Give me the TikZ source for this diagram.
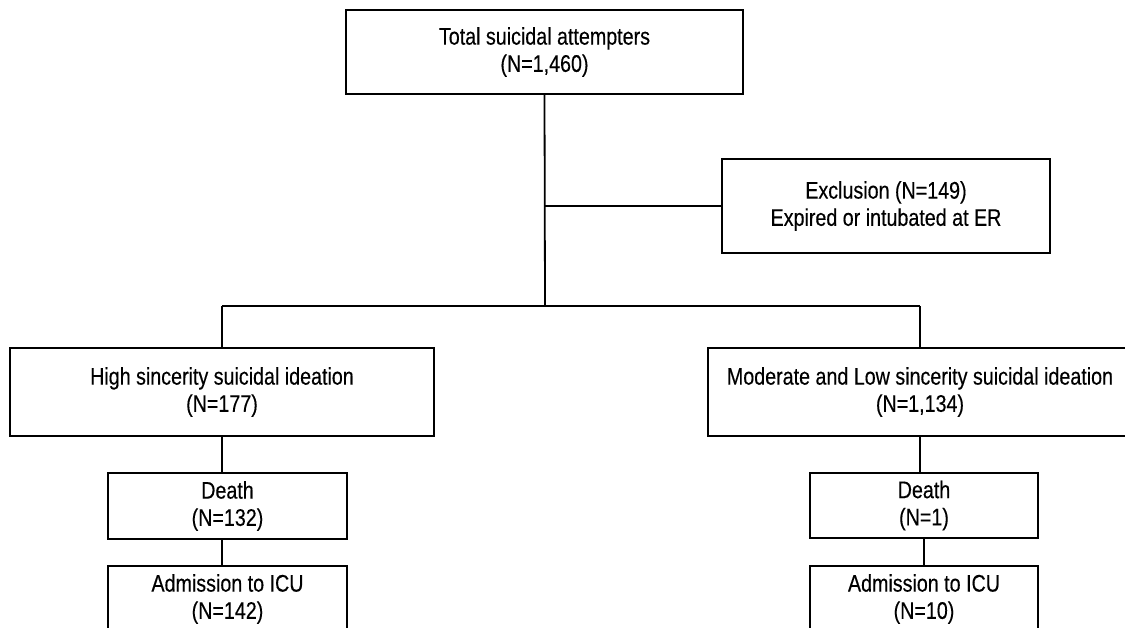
\documentclass[tikz,border=0pt]{standalone}
\usepackage{fontspec}
\newfontfamily\diagfont{Liberation Sans}[FakeStretch=0.82,FakeBold=0.3]
\begin{document}
\begin{tikzpicture}[x=0.5pt,y=-0.5pt,
  box/.style={draw=black, line width=0.9pt, rectangle, align=center, inner sep=0pt,
    font=\diagfont\fontsize{12pt}{13.6pt}\selectfont},
  conn/.style={draw=black, line width=0.9pt}]
\useasboundingbox (0,0) rectangle (1125,627);
\clip (0,0) rectangle (1125,627);
\fill[white] (0,0) rectangle (1125,627);
\node[box, minimum width=198.5pt, minimum height=42pt] (top) at (544.5,52) {Total suicidal attempters\\(N=1,460)};
\node[box, minimum width=164pt, minimum height=47pt] (excl) at (886,206) {Exclusion (N=149)\\Expired or intubated at ER};
\node[box, minimum width=212pt, minimum height=44pt] (high) at (222,392) {High sincerity suicidal ideation\\(N=177)};
\node[box, minimum width=212pt, minimum height=44pt] (mod) at (920,392) {Moderate and Low sincerity suicidal ideation\\(N=1,134)};
\node[box, minimum width=119.5pt, minimum height=33pt] (deathL) at (227.5,506) {Death\\(N=132)};
\node[box, minimum width=114pt, minimum height=32.5pt] (deathR) at (924,505.5) {Death\\(N=1)};
\node[box, minimum width=119.5pt, minimum height=33pt] (admL) at (227.5,599) {Admission to ICU\\(N=142)};
\node[box, minimum width=114pt, minimum height=33pt] (admR) at (924,599) {Admission to ICU\\(N=10)};
\coordinate (split) at (545,306);
\draw[conn] (top.south) -- (split);
\draw[conn] (top.south |- excl.west) -- (excl.west);
\draw[conn] (high.north |- split) -- (mod.north |- split);
\draw[conn] (high.north |- split) -- (high.north);
\draw[conn] (mod.north |- split) -- (mod.north);
\draw[conn] (high.south) -- (high.south |- deathL.north);
\draw[conn] (deathL.south -| high.south) -- (admL.north -| high.south);
\draw[conn] (mod.south) -- (mod.south |- deathR.north);
\draw[conn] (deathR.south) -- (admR.north);
\end{tikzpicture}
\end{document}
